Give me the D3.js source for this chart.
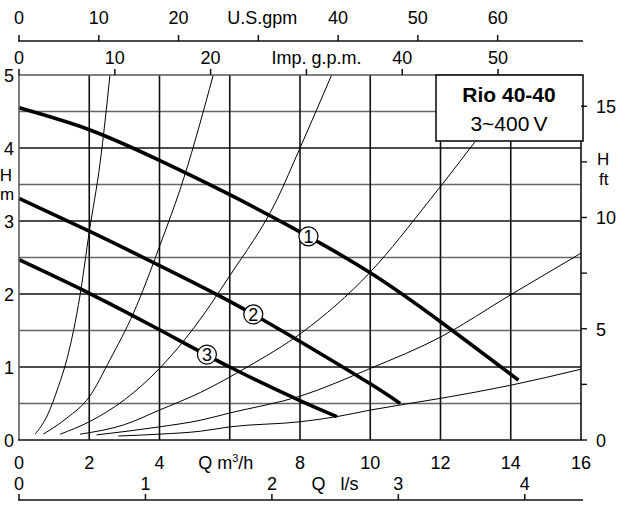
<!DOCTYPE html>
<html>
<head>
<meta charset="utf-8">
<script src="https://cdn.jsdelivr.net/npm/d3@7/dist/d3.min.js"></script>
<style>
  html, body { margin: 0; padding: 0; background: #fff; }
  svg { display: block; font-family: "Liberation Sans", Arial, sans-serif; }
</style>
</head>
<body>
<div id="chart"></div>
<script>
// ---- Data ----
const flowTicks = [0, 2, 4, 6, 8, 10, 12, 14, 16];      // Q m3/h
const headTicks = [0, 1, 2, 3, 4, 5];                   // H m
const headMinor = [0.5, 1.5, 2.5, 3.5, 4.5];
const ftTicks = [0, 5, 10, 15];                         // H ft
const ftMinor = [2.5, 7.5, 12.5];
const usGpmTicks = [0, 10, 20, 30, 40, 50, 60];
const impGpmTicks = [0, 10, 20, 30, 40, 50];
const lsTicks = [0, 1, 2, 3, 4];

// pump curves [Q m3/h, H m]
const pump1 = [[0, 4.55], [2, 4.25], [4, 3.83], [6, 3.36], [8, 2.85], [10, 2.29], [12, 1.62], [14.22, 0.82]];
const pump2 = [[0, 3.31], [2, 2.86], [4, 2.39], [6, 1.9], [8, 1.35], [10, 0.77], [10.85, 0.5]];
const pump3 = [[0, 2.47], [2, 2.01], [4, 1.51], [6, 1.0], [8, 0.54], [9.05, 0.32]];
const pumpLabels = [
  { name: '1', q: 8.24, h: 2.79 },
  { name: '2', q: 6.67, h: 1.72 },
  { name: '3', q: 5.35, h: 1.17 },
];

// system curves (thin)
const sysA = [[0.46, 0.08], [0.8, 0.33], [1.12, 0.73], [1.36, 1.1], [1.74, 1.99], [2.0, 2.85], [2.31, 3.8], [2.59, 5.0]];
const sysB = [[0.69, 0.08], [1.36, 0.3], [2.0, 0.59], [2.59, 1.1], [3.26, 1.74], [4.0, 2.65], [4.7, 3.6], [5.53, 5.0]];
const sysC = [[1.17, 0.08], [2, 0.25], [3, 0.55], [4, 0.98], [5, 1.55], [6, 2.25], [7.34, 3.29], [8, 4.0], [8.9, 5.0]];
const sysD = [[1.74, 0.08], [3, 0.21], [4, 0.41], [5.16, 0.65], [6.5, 1.0], [8.05, 1.47], [10, 2.3], [11.7, 3.29], [13.4, 4.35]];
const sysE = [[2.21, 0.07], [4, 0.18], [5.16, 0.27], [6, 0.37], [8, 0.6], [10, 0.98], [12, 1.41], [14, 1.99], [16, 2.56]];
const sysF = [[2.83, 0.055], [4, 0.08], [5.16, 0.12], [6, 0.18], [8, 0.25], [9.05, 0.32], [10, 0.41], [12, 0.57], [14, 0.75], [16, 0.97]];
const systemCurves = [sysA, sysB, sysC, sysD, sysE, sysF];

const title = 'Rio 40-40';
const subtitle = '3~400\u2009V';

// unit conversions
const M3H_TO_USGPM = 4.4029;
const M3H_TO_IMPGPM = 3.6662;
const M3H_TO_LS = 1 / 3.6;
const M_TO_FT = 1 / 0.3048;

// ---- Layout ----
const width = 620, height = 505;
const x0 = 19, x1 = 581, yTop = 75, yBot = 440;
const FONT = 18;

const svg = d3.select('#chart').append('svg')
  .attr('width', width)
  .attr('height', height);

const x = d3.scaleLinear().domain([0, 16]).range([x0, x1]);
const y = d3.scaleLinear().domain([0, 5]).range([yBot, yTop]);
const yFt = d3.scaleLinear().domain([0, 5 * M_TO_FT]).range([yBot, yTop]);
const xUs = d3.scaleLinear().domain([0, 16 * M3H_TO_USGPM]).range([x0, x1]);
const xImp = d3.scaleLinear().domain([0, 16 * M3H_TO_IMPGPM]).range([x0, x1]);
const xLs = d3.scaleLinear().domain([0, 16 * M3H_TO_LS]).range([x0, x1]);

// ---- Grid ----
const grid = svg.append('g');
grid.selectAll('.hminor').data(headMinor).join('line')
  .attr('x1', x0).attr('x2', x1)
  .attr('y1', d => y(d)).attr('y2', d => y(d))
  .attr('stroke', '#666').attr('stroke-width', 1.5);
grid.selectAll('.hmajor').data(headTicks.filter(d => d > 0 && d < 5)).join('line')
  .attr('x1', x0).attr('x2', x1)
  .attr('y1', d => y(d)).attr('y2', d => y(d))
  .attr('stroke', '#111').attr('stroke-width', 1.6);
grid.selectAll('.vmajor').data(flowTicks.filter(d => d > 0 && d < 16)).join('line')
  .attr('x1', d => x(d)).attr('x2', d => x(d))
  .attr('y1', yTop).attr('y2', yBot)
  .attr('stroke', '#111').attr('stroke-width', 1.6);

// ---- System curves ----
const thinLine = d3.line()
  .x(d => x(d[0])).y(d => y(d[1]))
  .curve(d3.curveMonotoneX);

svg.append('g').selectAll('path').data(systemCurves).join('path')
  .attr('d', thinLine)
  .attr('fill', 'none')
  .attr('stroke', '#000')
  .attr('stroke-width', 1);

// ---- Pump curves ----
const pumpLine = d3.line()
  .x(d => x(d[0])).y(d => y(d[1]))
  .curve(d3.curveNatural);

svg.append('g').selectAll('path').data([pump1, pump2, pump3]).join('path')
  .attr('d', pumpLine)
  .attr('fill', 'none')
  .attr('stroke', '#000')
  .attr('stroke-width', 3.6);

const lbl = svg.append('g').selectAll('g').data(pumpLabels).join('g')
  .attr('transform', d => `translate(${x(d.q)},${y(d.h)})`);
lbl.append('circle').attr('r', 9.5)
  .attr('fill', '#fff').attr('stroke', '#000').attr('stroke-width', 1.2);
lbl.append('text')
  .attr('text-anchor', 'middle').attr('dy', '0.36em')
  .attr('font-size', 18)
  .text(d => d.name);

// ---- Plot frame ----
svg.append('line').attr('x1', x0).attr('x2', x0).attr('y1', yTop).attr('y2', yBot)
  .attr('stroke', '#555').attr('stroke-width', 1.5);
svg.append('line').attr('x1', x1).attr('x2', x1).attr('y1', yTop).attr('y2', yBot)
  .attr('stroke', '#111').attr('stroke-width', 1.6);
svg.append('line').attr('x1', x0 - 1).attr('x2', x1 + 1).attr('y1', yBot).attr('y2', yBot)
  .attr('stroke', '#111').attr('stroke-width', 1.6);
svg.append('line').attr('x1', x0 - 1).attr('x2', x1 + 1).attr('y1', yTop).attr('y2', yTop)
  .attr('stroke', '#555').attr('stroke-width', 1.5);

// ---- Legend box ----
const box = svg.append('g');
box.append('rect')
  .attr('x', 436).attr('y', 75).attr('width', 147).attr('height', 66)
  .attr('fill', '#fff').attr('stroke', '#111').attr('stroke-width', 1.6);
box.append('text')
  .attr('x', 509).attr('y', 102)
  .attr('text-anchor', 'middle')
  .attr('font-size', 21).attr('font-weight', 'bold')
  .text(title);
box.append('text')
  .attr('x', 509).attr('y', 131)
  .attr('text-anchor', 'middle')
  .attr('font-size', 21)
  .text(subtitle);

// ---- Axes ----
function tickLabels(g, data, fx, yPos, skip, label, labelDx) {
  g.selectAll(null).data(data.filter(d => d !== skip)).join('text')
    .attr('x', d => fx(d)).attr('y', yPos)
    .attr('text-anchor', 'middle')
    .attr('font-size', FONT)
    .text(d => d);
  if (label) {
    g.append('text')
      .attr('x', fx(skip) + labelDx).attr('y', yPos)
      .attr('text-anchor', 'middle')
      .attr('font-size', FONT)
      .text(label);
  }
}

// US gpm (top)
const usG = svg.append('g');
usG.append('line').attr('x1', x0 - 1).attr('x2', x1 + 2).attr('y1', 41).attr('y2', 41)
  .attr('stroke', '#111').attr('stroke-width', 1.6);
usG.selectAll('.t').data(usGpmTicks).join('line')
  .attr('x1', d => xUs(d)).attr('x2', d => xUs(d))
  .attr('y1', 41).attr('y2', 35)
  .attr('stroke', '#111').attr('stroke-width', 1.5);
tickLabels(usG, usGpmTicks, xUs, 24, 30, 'U.S.gpm', 4);

// Imp gpm (top of plot)
const impG = svg.append('g');
impG.selectAll('.t').data(impGpmTicks).join('line')
  .attr('x1', d => xImp(d)).attr('x2', d => xImp(d))
  .attr('y1', yTop).attr('y2', yTop - 6)
  .attr('stroke', '#111').attr('stroke-width', 1.5);
tickLabels(impG, impGpmTicks, xImp, 64, 30, 'Imp. g.p.m.', 10);

// m3/h (bottom)
const qG = svg.append('g');
tickLabels(qG, flowTicks, x, 469, 6, null, 0);
const qLab = qG.append('text')
  .attr('x', x(6) - 4).attr('y', 469)
  .attr('text-anchor', 'middle')
  .attr('font-size', FONT);
qLab.append('tspan').text('Q  m');
qLab.append('tspan').attr('font-size', 11).attr('dy', -7).text('3');
qLab.append('tspan').attr('dy', 7).text('/h');

// l/s (bottom)
const lsG = svg.append('g');
lsG.append('line').attr('x1', x0 - 1).attr('x2', x1 + 2).attr('y1', 500).attr('y2', 500)
  .attr('stroke', '#111').attr('stroke-width', 1.6);
lsG.selectAll('.t').data(lsTicks).join('line')
  .attr('x1', d => xLs(d)).attr('x2', d => xLs(d))
  .attr('y1', 500).attr('y2', 494)
  .attr('stroke', '#111').attr('stroke-width', 1.5);
tickLabels(lsG, lsTicks, xLs, 490, null, null, 0);
lsG.append('text')
  .attr('x', 335).attr('y', 490)
  .attr('text-anchor', 'middle')
  .attr('font-size', FONT)
  .attr('xml:space', 'preserve')
  .text('Q   l/s');

// H m (left)
const hG = svg.append('g');
hG.selectAll('text').data(headTicks).join('text')
  .attr('x', 14).attr('y', d => y(d) + 7)
  .attr('text-anchor', 'end')
  .attr('font-size', FONT)
  .text(d => d);
hG.append('text').attr('x', 6).attr('y', 181).attr('text-anchor', 'middle')
  .attr('font-size', 17).text('H');
hG.append('text').attr('x', 7).attr('y', 200).attr('text-anchor', 'middle')
  .attr('font-size', 17).text('m');

// H ft (right)
const ftG = svg.append('g');
ftG.selectAll('line').data(ftTicks.concat(ftMinor)).join('line')
  .attr('x1', x1).attr('x2', x1 + 6)
  .attr('y1', d => yFt(d)).attr('y2', d => yFt(d))
  .attr('stroke', '#111').attr('stroke-width', 1.4);
ftG.selectAll('text').data(ftTicks).join('text')
  .attr('x', 596).attr('y', d => yFt(d) + 7)
  .attr('font-size', FONT)
  .text(d => d);
ftG.append('text').attr('x', 597).attr('y', 165).attr('font-size', 17).text('H');
ftG.append('text').attr('x', 599).attr('y', 185).attr('font-size', 17).text('ft');
</script>
</body>
</html>
